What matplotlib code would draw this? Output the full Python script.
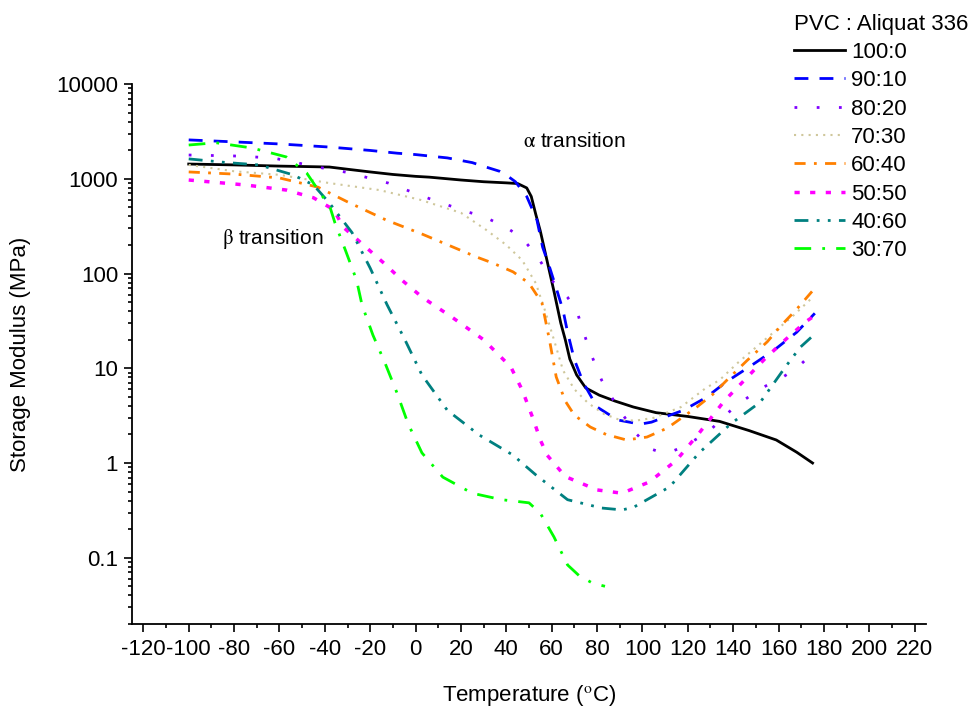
import matplotlib
matplotlib.use("Agg")
import matplotlib.pyplot as plt
from matplotlib.ticker import LogLocator, MultipleLocator, FixedLocator, FixedFormatter

plt.rcParams['font.family'] = ['Liberation Sans', 'DejaVu Sans']
plt.rcParams['mathtext.fontset'] = 'stix'
plt.rcParams['axes.unicode_minus'] = False

# PVC : Aliquat 336 ratios, storage modulus (MPa) vs temperature (C)
t_100_0 = [-100, -80, -60, -45, -38, -30, -20, -10, 0, 6, 20, 30, 40, 45, 49, 51, 53, 55, 58, 61, 64, 66, 68, 71, 75, 81, 88, 96, 106, 120, 134, 147, 159, 168, 175]
e_100_0 = [1430, 1400, 1360, 1340, 1330, 1260, 1180, 1110, 1060, 1040, 970, 930, 905, 890, 800, 650, 420, 280, 135, 65, 30, 20, 12.5, 8.5, 6.2, 5.2, 4.5, 3.9, 3.4, 3.1, 2.75, 2.2, 1.75, 1.3, 1.0]

t_90_10 = [-100, -80, -60, -38, -20, -8, 0, 14, 25, 31, 37, 41, 44, 49, 53.5, 56, 59, 62, 65, 67, 70, 74, 80, 89, 99, 104, 109, 118, 128, 137, 147, 158, 168, 176]
e_90_10 = [2570, 2450, 2330, 2160, 1990, 1860, 1800, 1660, 1480, 1330, 1200, 1050, 930, 650, 367, 190, 118, 70, 41, 24, 12.3, 7, 3.9, 2.85, 2.57, 2.7, 3.0, 3.6, 4.9, 7.2, 10.3, 15.5, 24, 38]

t_80_20 = [-100, -80, -63, -52, -41, -35, -29, -12, 5, 23, 30, 35, 41, 47, 54, 60, 67, 71, 73, 77, 82, 89, 97, 104, 108, 112, 118, 124, 130, 140, 151, 162, 168, 173]
e_80_20 = [1780, 1740, 1660, 1470, 1300, 1230, 1150, 900, 630, 446, 400, 350, 295, 237, 148, 85, 56, 41, 28.6, 14.8, 7.5, 3.9, 2.07, 1.4, 1.3, 1.3, 1.48, 1.8, 2.24, 3.8, 5.9, 8.1, 10, 13]

t_70_30 = [-100, -80, -60, -38, -16, 2, 20, 31, 40, 47, 53, 57, 61, 65, 70, 76, 83, 90, 97, 105, 117, 128, 134, 142, 155, 166, 175]
e_70_30 = [1400, 1200, 1100, 900, 760, 600, 437, 290, 200, 138, 79, 41, 20, 9.5, 6, 4.3, 3.3, 2.85, 2.8, 3.0, 3.9, 6.2, 7.5, 11.4, 21, 35, 56]

t_60_40 = [-100, -80, -60, -43, -30, -13, 3, 27, 34, 43, 50, 55.7, 59, 62, 66, 70, 77, 84, 93, 102, 111, 124, 131, 137, 146, 155, 161, 168, 176]
e_60_40 = [1180, 1120, 1020, 815, 570, 367, 260, 149, 129, 104, 79, 49, 20, 8.1, 4.5, 3.2, 2.4, 2.0, 1.75, 1.88, 2.34, 3.9, 5.3, 7.4, 12, 19, 28, 42, 70]

t_50_50 = [-100, -75, -57, -45, -36, -32, -23, -14, -6, 3, 16.5, 30, 42, 47, 52, 55, 58, 66, 80, 91, 103, 115, 125, 136, 145, 154, 163, 172, 176]
e_50_50 = [970, 860, 760, 630, 470, 310, 200, 129, 85, 56, 34, 20, 10.3, 5.9, 2.85, 1.75, 1.21, 0.72, 0.52, 0.48, 0.63, 1.07, 2.07, 4.5, 7.5, 12.6, 20, 31, 36]

t_40_60 = [-100, -83, -69, -54, -45, -38, -28, -20, -12.6, -4.7, 2.8, 14, 28, 43, 48, 53, 67, 82, 91, 96, 112, 125, 139, 152, 163, 169.5, 176]
e_40_60 = [1620, 1480, 1400, 1100, 860, 555, 270, 114, 47, 20, 8.5, 3.6, 1.98, 1.21, 0.95, 0.75, 0.41, 0.335, 0.32, 0.34, 0.56, 1.28, 2.6, 4.4, 10.3, 16.6, 23]

t_30_70 = [-100, -88, -72, -57, -48, -42, -37.7, -35.5, -31, -26, -23.6, -18.8, -13.5, -8.2, -3.3, 2.8, 12, 25, 38, 46, 50, 55, 61, 67, 72, 78, 83.5]
e_30_70 = [2270, 2400, 2110, 1700, 1150, 705, 500, 340, 178, 85, 46.5, 22.4, 11.4, 5.5, 2.6, 1.28, 0.71, 0.48, 0.41, 0.39, 0.38, 0.295, 0.166, 0.084, 0.065, 0.054, 0.050]

series = [
    ('100:0', t_100_0, e_100_0, 'black', '-', 2.0),
    ('90:10', t_90_10, e_90_10, '#0000FF', (0, (5, 4)), 2.0),
    ('80:20', t_80_20, e_80_20, '#8000FF', (0, (1, 7)), 2.0),
    ('70:30', t_70_30, e_70_30, '#CFC79B', (0, (1, 2.5)), 1.5),
    ('60:40', t_60_40, e_60_40, '#FF8000', (0, (4, 3, 1, 3)), 2.0),
    ('50:50', t_50_50, e_50_50, '#FF00FF', (0, (1.5, 3)), 2.5),
    ('40:60', t_40_60, e_40_60, '#008080', (0, (5, 3, 1, 3, 1, 3)), 2.0),
    ('30:70', t_30_70, e_30_70, '#00FF00', (0, (6, 4, 1, 4)), 2.0),
]

fig = plt.figure(figsize=(9.79, 7.08), dpi=100)
ax = fig.add_axes([132 / 979, 1 - 624 / 708, (926 - 132) / 979, (624 - 84) / 708])

for label, t, e, color, ls, lw in series:
    ax.plot(t, e, color=color, linestyle=ls, linewidth=lw, label=label)

ax.set_yscale('log')
ax.set_xlim(-125, 225)
ax.set_ylim(0.02, 10000)

ax.xaxis.set_major_locator(MultipleLocator(20))
ax.xaxis.set_minor_locator(MultipleLocator(10))
ax.yaxis.set_major_locator(FixedLocator([0.1, 1, 10, 100, 1000, 10000]))
ax.yaxis.set_major_formatter(FixedFormatter(['0.1', '1', '10', '100', '1000', '10000']))
ax.yaxis.set_minor_locator(LogLocator(base=10, subs=range(2, 10)))

ax.spines['top'].set_visible(False)
ax.spines['right'].set_visible(False)
for s in ['left', 'bottom']:
    ax.spines[s].set_linewidth(1.3)
ax.tick_params(which='major', direction='out', length=6, width=1.2, labelsize=16)
ax.tick_params(axis='x', which='major', pad=5)
ax.tick_params(axis='y', which='major', pad=4)
ax.tick_params(which='minor', direction='out', length=3, width=1.2)

ax.set_xlabel('Temperature ($^{\\rm o}$C)', fontsize=16, labelpad=16)
ax.set_ylabel('Storage Modulus (MPa)', fontsize=16, labelpad=18)

ax.text(47.4, 2500, r'$\mathrm{\alpha}$ transition', fontsize=15, va='center', ha='left')
ax.text(-85.3, 231, r'$\mathrm{\beta}$ transition', fontsize=15, va='center', ha='left')

leg = fig.legend(loc='upper left', bbox_to_anchor=(778 / 979, 1 + 2 / 708),
                 title='PVC : Aliquat 336', title_fontsize=16, fontsize=16,
                 frameon=False, handlelength=2.3, handletextpad=0.3,
                 labelspacing=0.33, borderpad=0.2, alignment='left')

fig.savefig('out.png', dpi=100)
